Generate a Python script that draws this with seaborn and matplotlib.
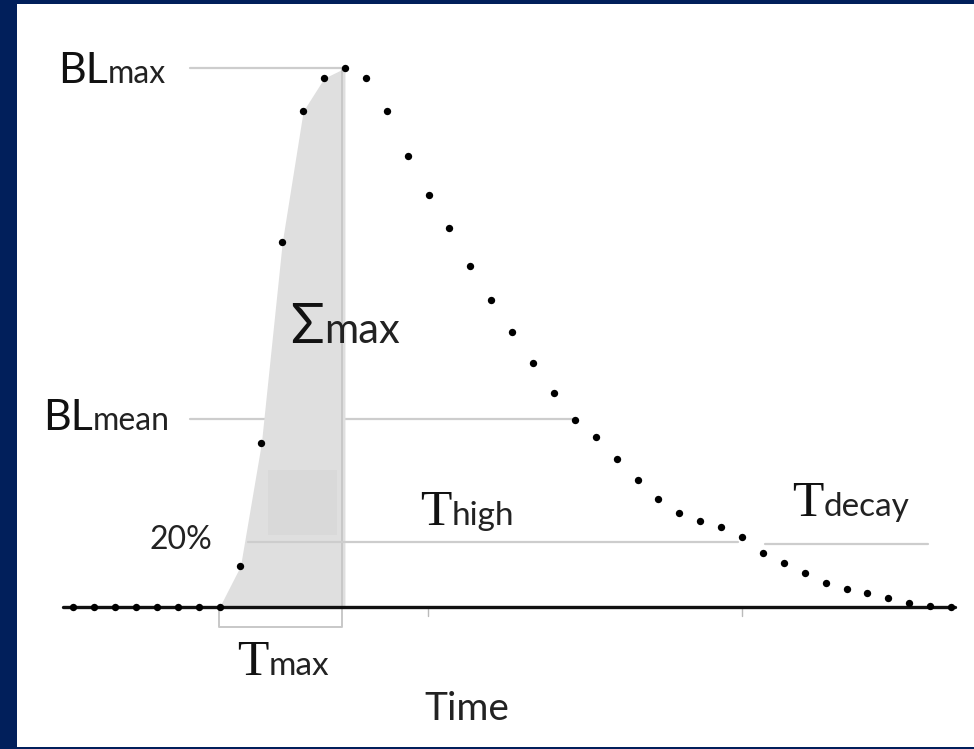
import matplotlib
matplotlib.use("Agg")
import matplotlib.pyplot as plt
import matplotlib.transforms as mtransforms
from matplotlib.patches import Rectangle
import numpy as np
import seaborn as sns

# blood level samples (percent of BLmax) at equally spaced time steps
time = np.arange(43)
blood_level = [0, 0, 0, 0, 0, 0, 0, 0,
               7.6, 30.4, 67.7, 92.0, 98.1, 100.0,
               98.1, 92.0, 83.7, 76.4, 70.3, 63.3, 57.0, 51.0, 45.3, 39.7,
               34.7, 31.5, 27.5, 23.6, 20.0, 17.4, 16.0, 14.8, 13.0, 10.0,
               8.2, 6.3, 4.5, 3.3, 2.6, 1.7, 0.7, 0.2, 0.0]

# reference levels and their time spans
bl_max = 100.0
bl_mean = 34.9
level_20 = 12.1
decay_level = 11.7
max_span = (5.58, 13.0)
mean_span = (5.58, 24.05)
high_span = (8.37, 31.8)
decay_span = (33.1, 40.9)
rise_start, peak_t = 7, 13
baseline_span = (-0.5, 42.2)
tick_times = [16.96, 32.0]

NAVY = "#011f5b"
GRID_GREY = "#cdcdcd"
FILL_GREY = "#dfdfdf"
INK = "#111111"

sns.set_theme(style="white")
plt.rcParams["font.family"] = ["Lato", "DejaVu Sans"]

fig = plt.figure(figsize=(9.74, 7.49), dpi=100, facecolor=NAVY)

# white panel inside the navy frame
bg = fig.add_axes([17 / 974, 2 / 749, 957 / 974, 743 / 749], zorder=0)
bg.set_facecolor("white")
bg.set_xticks([])
bg.set_yticks([])
for s in bg.spines.values():
    s.set_visible(False)

ax = fig.add_axes([0, 0, 1, 1], zorder=1)
ax.set_facecolor("none")

# shaded area under the rise up to the peak
t_rise = time[rise_start:peak_t + 1]
v_rise = blood_level[rise_start:peak_t + 1]
ax.fill_between(t_rise, v_rise, 0, color=FILL_GREY, lw=0, zorder=2)
ax.add_patch(Rectangle((9.3, 13.4), 3.3, 12.0, color="#d9d9d9", lw=0, zorder=2.1))

# bracket below the baseline for Tmax
ax.plot([rise_start - 0.05, rise_start - 0.05, peak_t - 0.12, peak_t - 0.12],
        [0, -3.7, -3.7, bl_max], color="#c8c8c8", lw=1.4, zorder=2.2)

# reference lines
ax.plot(max_span, [bl_max, bl_max], color=GRID_GREY, lw=1.6, zorder=1)
ax.plot(mean_span, [bl_mean, bl_mean], color=GRID_GREY, lw=1.6, zorder=1)
ax.plot(high_span, [level_20, level_20], color=GRID_GREY, lw=1.6, zorder=3)
ax.plot(decay_span, [decay_level, decay_level], color=GRID_GREY, lw=1.6, zorder=3)

# baseline + small ticks
ax.plot(baseline_span, [0, 0], color=INK, lw=2.4, zorder=4)
for tt in tick_times:
    ax.plot([tt, tt], [0, -1.6], color="#bbbbbb", lw=1.0, zorder=3)

sns.scatterplot(x=time, y=blood_level, color="black", s=28, linewidth=0,
                ax=ax, zorder=5)

ax.set_xlim(-3.507, 43.10)
ax.set_ylim(-26.35, 112.62)
ax.set_axis_off()

renderer = fig.canvas.get_renderer()


def two_part(x, y, big, small, big_size, small_size, serif=False):
    fam = ["Liberation Serif", "DejaVu Serif"] if serif else ["Lato", "DejaVu Sans"]
    t1 = ax.text(x, y, big, fontsize=big_size, family=fam, color=INK,
                 ha="left", va="baseline", zorder=6)
    w = t1.get_window_extent(renderer).width * 72 / fig.dpi
    tr = mtransforms.offset_copy(ax.transData, fig=fig, x=w, y=0, units="points")
    ax.text(x, y, small, fontsize=small_size, color="#222222", transform=tr,
            ha="left", va="baseline", zorder=6)


two_part(-0.73, 97.2, "BL", "max", 31, 23)
two_part(-1.45, 32.8, "BL", "mean", 31, 23)
two_part(10.37, 49.0, "\u03a3", "max", 40, 30)
two_part(7.83, -12.6, "T", "max", 37, 24, serif=True)
two_part(16.6, 15.2, "T", "high", 37, 24, serif=True)
two_part(34.4, 16.9, "T", "decay", 37, 24, serif=True)
ax.text(3.67, 10.8, "20%", fontsize=23, color="#222222", ha="left",
        va="baseline", zorder=6)
ax.text(16.8, -21.0, "Time", fontsize=28, color="#222222", ha="left",
        va="baseline", zorder=6)

fig.savefig("out.png", dpi=100, facecolor=NAVY)
